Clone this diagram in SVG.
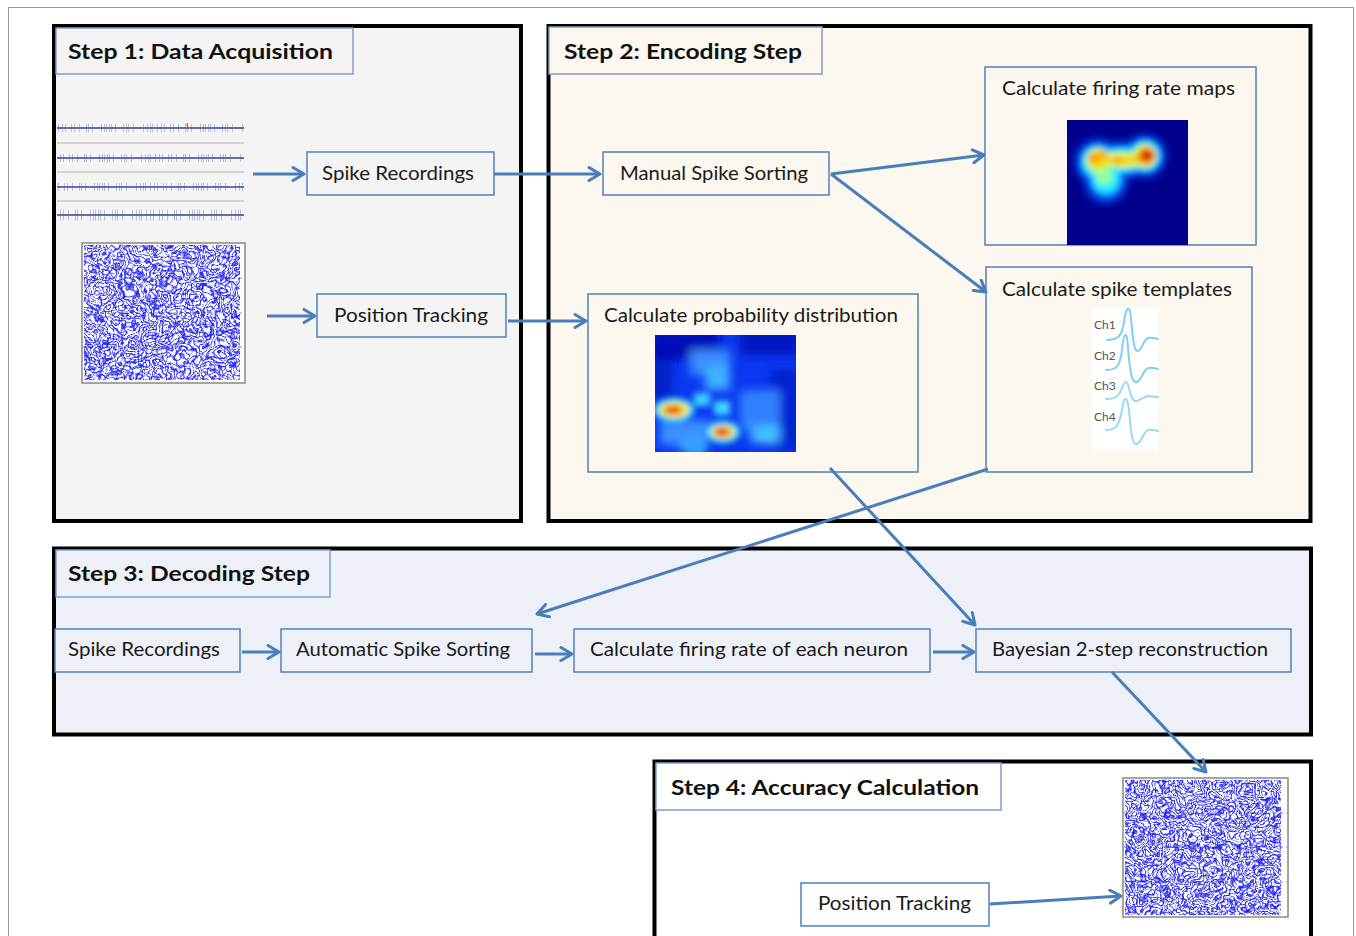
<svg xmlns="http://www.w3.org/2000/svg" width="1356" height="936" viewBox="0 0 1356 936">
<style>
.panel{stroke:#000;stroke-width:4}
.tbox{stroke:#7f9fd0;stroke-width:1.5}
.node{stroke:#4f81bd;stroke-width:1.5}
.title{font-family:Lato,"Open Sans",sans-serif;font-weight:bold;font-size:21px;fill:#111}
.lbl{font-family:Lato,"Open Sans",sans-serif;font-size:19px;fill:#1a1a1a}
.ch{font-family:Lato,"Open Sans",sans-serif;font-size:12px;fill:#555}
.conn{stroke:#4a7ebb;stroke-width:3;fill:none;marker-end:url(#ah)}
.grid{stroke:#888;stroke-width:1;stroke-dasharray:3 3}
.wave{fill:none;stroke:#80d0f0;stroke-width:2;stroke-linecap:round}
</style>
<defs>
<marker id="ah" markerUnits="userSpaceOnUse" markerWidth="16" markerHeight="16" refX="13" refY="8" orient="auto" viewBox="0 0 16 16">
<path d="M2,1.5 L13,8 L2,14.5" fill="none" stroke="#4a7ebb" stroke-width="3" stroke-linecap="round" stroke-linejoin="round"/>
</marker>
<filter id="scrib" x="0" y="0" width="1" height="1" color-interpolation-filters="sRGB">
<feTurbulence type="fractalNoise" baseFrequency="0.04" numOctaves="3" seed="7" result="n"/>
<feColorMatrix in="n" type="matrix" values="0 0 0 0 0  0 0 0 0 0  0 0 0 0 0  1 0 0 0 0" result="a"/>
<feComponentTransfer in="a" result="c">
<feFuncA type="table" tableValues="0 0 0 1 0 0 0 1 0 0 0 1 0 0 0 1 0 0 0 1 0 0 0 1 0 0 0 1 0 0 0 1 0 0 0 1 0 0 0 1 0 0 0 1 0 0 0 1"/>
</feComponentTransfer>
<feFlood flood-color="#1a1aff"/>
<feComposite in2="c" operator="in"/>
</filter>
<filter id="scrib2" x="0" y="0" width="1" height="1" color-interpolation-filters="sRGB">
<feTurbulence type="fractalNoise" baseFrequency="0.035" numOctaves="3" seed="23" result="n"/>
<feColorMatrix in="n" type="matrix" values="0 0 0 0 0  0 0 0 0 0  0 0 0 0 0  0 1 0 0 0" result="a"/>
<feComponentTransfer in="a" result="c">
<feFuncA type="table" tableValues="0 0 0 1 0 0 0 1 0 0 0 1 0 0 0 1 0 0 0 1 0 0 0 1 0 0 0 1 0 0 0 1 0 0 0 1 0 0 0 1 0 0 0 1 0 0 0 1"/>
</feComponentTransfer>
<feFlood flood-color="#2020ee"/>
<feComposite in2="c" operator="in"/>
</filter>
<filter id="blur" x="-50%" y="-50%" width="200%" height="200%"><feGaussianBlur stdDeviation="3"/></filter>
<filter id="blur2" x="-50%" y="-50%" width="200%" height="200%"><feGaussianBlur stdDeviation="5"/></filter>
<clipPath id="c1"><rect x="1067" y="120" width="121" height="125"/></clipPath>
<clipPath id="c2"><rect x="655" y="335" width="141" height="117"/></clipPath>
</defs>

<rect x="8.5" y="7.5" width="1345" height="940" fill="#fff" stroke="#999" stroke-width="1"/>

<g id="step1">
<rect class="panel" x="54" y="26" width="467" height="495" fill="#f4f4f4"/>
<rect class="tbox" x="56" y="28" width="297" height="46" fill="#f4f4f4"/>
<text class="title" x="68" y="59" textLength="265" lengthAdjust="spacingAndGlyphs">Step 1: Data Acquisition</text>
</g>
<g id="step2">
<rect class="panel" x="548.5" y="26" width="762" height="495" fill="#fcf7ef"/>
<rect class="tbox" x="549" y="27" width="273" height="47" fill="#fcf7ef"/>
<text class="title" x="564" y="59" textLength="238" lengthAdjust="spacingAndGlyphs">Step 2: Encoding Step</text>
</g>
<g id="step3">
<rect class="panel" x="54" y="548.5" width="1257" height="186" fill="#edf1f7"/>
<rect class="tbox" x="56" y="550" width="274" height="47" fill="#edf1f7"/>
<text class="title" x="68" y="581" textLength="242" lengthAdjust="spacingAndGlyphs">Step 3: Decoding Step</text>
</g>
<g id="step4">
<rect class="panel" x="654.5" y="761.5" width="656.5" height="180" fill="#fff"/>
<rect class="tbox" x="656" y="763" width="345" height="47" fill="#fff"/>
<text class="title" x="671" y="795" textLength="308" lengthAdjust="spacingAndGlyphs">Step 4: Accuracy Calculation</text>
</g>

<g id="raw-traces">
<g stroke="#c8c8c8" stroke-width="1.5">
<line x1="57" y1="143" x2="244" y2="143"/><line x1="57" y1="172" x2="244" y2="172"/><line x1="57" y1="201" x2="244" y2="201"/>
</g>
<g stroke="#7080b8" stroke-width="8" opacity="0.45" stroke-dasharray="1 3 1 2 1 5 1 2 1 4 1 6 1 1 1 3 1 8 1 2 1 1 1 2 1 1 1 3 1 7 1 2 1 1 1 4 1 9 1 3 1 2 1 1 1 4">
<line x1="58" y1="128" x2="243" y2="128"/>
<line x1="59" y1="158" x2="243" y2="158" stroke-dashoffset="3"/>
<line x1="58" y1="187" x2="243" y2="187" stroke-dashoffset="7"/>
<line x1="58" y1="215" x2="243" y2="215" stroke-width="11" stroke-dashoffset="11"/>
</g>
<g stroke="#4a5aa0" stroke-width="1.8" opacity="0.85">
<line x1="57" y1="128" x2="244" y2="128"/><line x1="57" y1="158" x2="244" y2="158"/><line x1="57" y1="187" x2="244" y2="187"/><line x1="57" y1="215" x2="244" y2="215"/>
</g>
<line x1="187" y1="123" x2="188" y2="129" stroke="#e04040" stroke-width="1.2"/>
</g>

<g id="trajectory1">
<rect x="82" y="243" width="163" height="140" fill="#fff" stroke="#888" stroke-width="1.5"/>
<g class="grid"><line x1="122" y1="244" x2="122" y2="382"/><line x1="162" y1="244" x2="162" y2="382"/><line x1="203" y1="244" x2="203" y2="382"/><line x1="83" y1="278" x2="244" y2="278"/><line x1="83" y1="313" x2="244" y2="313"/><line x1="83" y1="347" x2="244" y2="347"/></g>
<rect x="84" y="245" width="156" height="135" fill="#fff" filter="url(#scrib)"/>
<rect x="84" y="245" width="156" height="135" fill="#fff" filter="url(#scrib2)" opacity="0.9"/>
</g>

<g id="n-spike1"><rect class="node" x="307" y="152" width="187" height="43" fill="#f4f4f4"/><text class="lbl" x="322" y="180" textLength="152" lengthAdjust="spacingAndGlyphs">Spike Recordings</text></g>
<g id="n-pos1"><rect class="node" x="317" y="294" width="189" height="43" fill="#f4f4f4"/><text class="lbl" x="334" y="322" textLength="154" lengthAdjust="spacingAndGlyphs">Position Tracking</text></g>

<g id="n-manual"><rect class="node" x="603" y="152" width="226" height="43" fill="#fcf7ef"/><text class="lbl" x="620" y="180" textLength="188" lengthAdjust="spacingAndGlyphs">Manual Spike Sorting</text></g>

<g id="n-ratemaps">
<rect class="node" x="985" y="67" width="271" height="178" fill="#fcf7ef"/>
<text class="lbl" x="1002" y="95" textLength="233" lengthAdjust="spacingAndGlyphs">Calculate firing rate maps</text>
<rect x="1067" y="120" width="121" height="125" fill="#00008c"/>
<g clip-path="url(#c1)">
<g filter="url(#blur2)" fill="#0060ff"><circle cx="1098" cy="162" r="22"/><ellipse cx="1122" cy="160" rx="30" ry="17"/><circle cx="1145" cy="156" r="20"/><circle cx="1106" cy="182" r="20"/></g>
<g filter="url(#blur)">
<g fill="#20e8ff"><circle cx="1098" cy="162" r="17"/><ellipse cx="1122" cy="160" rx="28" ry="13"/><circle cx="1145" cy="156" r="16"/><circle cx="1106" cy="180" r="15"/></g>
<g fill="#90ffa0"><circle cx="1104" cy="176" r="9"/></g>
<g fill="#c0ff40"><circle cx="1098" cy="160" r="12"/><ellipse cx="1122" cy="160" rx="22" ry="8"/><circle cx="1145" cy="156" r="12"/></g>
<g fill="#ffd000"><circle cx="1097" cy="159" r="9"/><ellipse cx="1122" cy="160" rx="18" ry="5"/><circle cx="1146" cy="156" r="10"/></g>
<g fill="#ff7000"><circle cx="1146" cy="156" r="8"/><circle cx="1093" cy="158" r="4"/><circle cx="1103" cy="154" r="3.5"/><circle cx="1118" cy="161" r="3"/></g>
<ellipse cx="1148" cy="155" rx="7" ry="5" fill="#d00000"/>
</g>
</g>
</g>

<g id="n-templates">
<rect class="node" x="986" y="267" width="266" height="205" fill="#fcf7ef"/>
<text class="lbl" x="1002" y="296" textLength="230" lengthAdjust="spacingAndGlyphs">Calculate spike templates</text>
<rect x="1092" y="308" width="66" height="142" fill="#fff"/>
<text class="ch" x="1094" y="329">Ch1</text>
<text class="ch" x="1094" y="360">Ch2</text>
<text class="ch" x="1094" y="390">Ch3</text>
<text class="ch" x="1094" y="421">Ch4</text>
<path class="wave" d="M1107,340 C1118,340 1122,336 1124,322 C1126,306 1130,304 1131,318 C1133,340 1134,352 1138,351 C1142,350 1143,340 1148,338 C1152,337 1154,338 1158,339"/>
<path class="wave" d="M1106,370 C1117,370 1120,366 1122,350 C1124,330 1127,330 1128,348 C1130,372 1132,384 1137,382 C1142,380 1143,370 1148,368 C1152,367 1154,368 1158,369"/>
<path class="wave" d="M1106,399 C1116,399 1119,396 1122,388 C1125,380 1127,380 1129,388 C1131,397 1133,402 1137,401 C1142,399 1143,397 1148,396 C1152,396 1154,397 1158,397" opacity="0.8"/>
<path class="wave" d="M1106,430 C1116,430 1119,426 1122,410 C1124,396 1127,394 1129,410 C1131,436 1133,446 1137,444 C1142,442 1143,432 1148,430 C1152,429 1154,430 1158,431" opacity="0.8"/>
</g>

<g id="n-prob">
<rect class="node" x="588" y="294" width="330" height="178" fill="#fcf7ef"/>
<text class="lbl" x="604" y="322" textLength="294" lengthAdjust="spacingAndGlyphs">Calculate probability distribution</text>
<rect x="655" y="335" width="141" height="117" fill="#0a38f0"/>
<g clip-path="url(#c2)">
<g filter="url(#blur2)">
<rect x="650" y="330" width="70" height="30" fill="#0010b8"/>
<rect x="740" y="330" width="60" height="25" fill="#0018c0"/>
<rect x="650" y="360" width="22" height="40" fill="#0020c8"/>
<rect x="770" y="370" width="30" height="80" fill="#0024d0"/>
<rect x="690" y="350" width="40" height="25" fill="#3a8cff"/>
<rect x="705" y="365" width="25" height="25" fill="#40b0ff"/>
<rect x="740" y="390" width="40" height="40" fill="#3080ff"/>
<rect x="660" y="420" width="50" height="25" fill="#3a90ff"/>
<rect x="750" y="425" width="30" height="18" fill="#40b0ff"/>
<rect x="680" y="440" width="25" height="12" fill="#40a8ff"/>
</g>
<g filter="url(#blur)">
<rect x="694" y="393" width="16" height="13" fill="#40d0ff"/>
<rect x="714" y="401" width="16" height="14" fill="#40d8ff"/>
<rect x="758" y="428" width="16" height="12" fill="#40c0ff"/>
<rect x="688" y="443" width="16" height="10" fill="#30a0ff"/>
<ellipse cx="674" cy="410" rx="20" ry="12" fill="#20f0ff"/>
<ellipse cx="674" cy="410" rx="15" ry="8" fill="#ffe000"/>
<ellipse cx="673" cy="410" rx="9" ry="4" fill="#e81000"/>
<ellipse cx="723" cy="432" rx="17" ry="11" fill="#20f0ff"/>
<ellipse cx="723" cy="432" rx="12" ry="7" fill="#ffd000"/>
<ellipse cx="722" cy="432" rx="7" ry="4" fill="#e00000"/>
</g>
</g>
</g>

<g id="n-spike3"><rect class="node" x="55" y="629" width="185" height="43" fill="#edf1f7"/><text class="lbl" x="68" y="656" textLength="152" lengthAdjust="spacingAndGlyphs">Spike Recordings</text></g>
<g id="n-auto"><rect class="node" x="281" y="629" width="251" height="43" fill="#edf1f7"/><text class="lbl" x="296" y="656" textLength="214" lengthAdjust="spacingAndGlyphs">Automatic Spike Sorting</text></g>
<g id="n-rate"><rect class="node" x="574" y="629" width="356" height="43" fill="#edf1f7"/><text class="lbl" x="590" y="656" textLength="318" lengthAdjust="spacingAndGlyphs">Calculate firing rate of each neuron</text></g>
<g id="n-bayes"><rect class="node" x="976" y="629" width="315" height="43" fill="#edf1f7"/><text class="lbl" x="992" y="656" textLength="276" lengthAdjust="spacingAndGlyphs">Bayesian 2-step reconstruction</text></g>

<g id="n-pos4"><rect class="node" x="801" y="883" width="188" height="43" fill="#fff"/><text class="lbl" x="818" y="910" textLength="153" lengthAdjust="spacingAndGlyphs">Position Tracking</text></g>

<g id="trajectory4">
<rect x="1123" y="778" width="165" height="139" fill="#fff" stroke="#888" stroke-width="1.5"/>
<g class="grid"><line x1="1165" y1="779" x2="1165" y2="916"/><line x1="1205" y1="779" x2="1205" y2="916"/><line x1="1247" y1="779" x2="1247" y2="916"/><line x1="1124" y1="813" x2="1287" y2="813"/><line x1="1124" y1="847" x2="1287" y2="847"/><line x1="1124" y1="882" x2="1287" y2="882"/></g>
<rect x="1125" y="780" width="156" height="135" fill="#fff" filter="url(#scrib)"/>
<rect x="1125" y="780" width="156" height="135" fill="#fff" filter="url(#scrib2)" opacity="0.9"/>
</g>

<g id="connectors">
<line class="conn" x1="253" y1="174" x2="304" y2="174"/>
<line class="conn" x1="494" y1="174" x2="600" y2="174"/>
<line class="conn" x1="267" y1="316" x2="315" y2="316"/>
<line class="conn" x1="508" y1="321" x2="586" y2="321"/>
<line class="conn" x1="831" y1="174" x2="984" y2="155"/>
<line class="conn" x1="831" y1="174" x2="986" y2="292"/>
<line class="conn" x1="830" y1="468" x2="975" y2="625"/>
<line class="conn" x1="988" y1="469" x2="537" y2="614"/>
<line class="conn" x1="242" y1="652" x2="279" y2="652"/>
<line class="conn" x1="535" y1="654" x2="572" y2="654"/>
<line class="conn" x1="933" y1="652" x2="974" y2="652"/>
<line class="conn" x1="1112" y1="672" x2="1206" y2="772"/>
<line class="conn" x1="990" y1="904" x2="1121" y2="896"/>
</g>
</svg>
